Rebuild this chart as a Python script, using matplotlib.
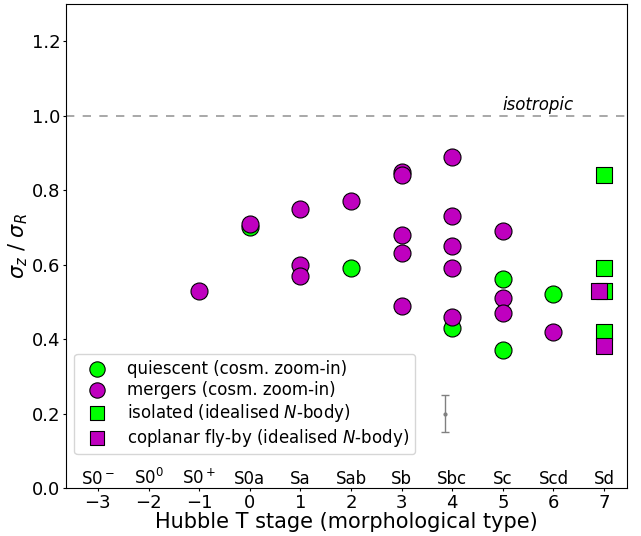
import numpy as np
import matplotlib.pyplot as plt

# sigma_z / sigma_R vs Hubble T stage
quies_t = [0, 2, 4, 5, 5, 6]
quies_s = [0.70, 0.59, 0.43, 0.56, 0.37, 0.52]

merg_t = [-1, 0, 1, 1, 1, 2, 3, 3, 3, 3, 3, 4, 4, 4, 4, 4, 5, 5, 5, 6]
merg_s = [0.53, 0.71, 0.75, 0.60, 0.57, 0.77, 0.85, 0.84, 0.68, 0.63, 0.49,
          0.89, 0.73, 0.65, 0.59, 0.46, 0.69, 0.51, 0.47, 0.42]

iso_t = [7, 7, 7, 7]
iso_s = [0.84, 0.59, 0.53, 0.42]

fly_t = [6.9, 7]
fly_s = [0.53, 0.38]

# typical uncertainty
err_t, err_s, err_e = 3.86, 0.20, 0.05

tstages = [-3, -2, -1, 0, 1, 2, 3, 4, 5, 6, 7]
tnames = [r'S0$^-$', r'S0$^0$', r'S0$^+$', 'S0a', 'Sa', 'Sab', 'Sb', 'Sbc', 'Sc', 'Scd', 'Sd']

fig = plt.figure(figsize=(6.41, 5.36), dpi=100)
ax = fig.add_axes([0.103, 0.0896, 0.875, 0.903])

ax.axhline(1.0, color='grey', ls=(0, (5, 5)), lw=1.2, alpha=0.8, zorder=1)
ax.text(5.0, 1.004, 'isotropic', style='italic', fontsize=12, va='bottom')

ax.scatter(quies_t, quies_s, s=150, c='lime', edgecolors='k', lw=0.8, zorder=3,
           label='quiescent (cosm. zoom-in)')
ax.scatter(merg_t, merg_s, s=150, c='m', edgecolors='k', lw=0.8, zorder=4,
           label='mergers (cosm. zoom-in)')
ax.scatter(iso_t, iso_s, s=120, c='lime', marker='s', edgecolors='k', lw=0.8, zorder=3,
           label='isolated (idealised $N$-body)')
ax.scatter(fly_t, fly_s, s=120, c='m', marker='s', edgecolors='k', lw=0.8, zorder=4,
           label='coplanar fly-by (idealised $N$-body)')

ax.errorbar(err_t, err_s, yerr=err_e, fmt='o', ms=2, color='grey', capsize=3, lw=1)

for t, name in zip(tstages, tnames):
    ax.text(t, 0.0, name, ha='center', va='bottom', fontsize=12)

ax.set_xlim(-3.63, 7.45)
ax.set_ylim(0, 1.3)
ax.set_xticks(tstages)
ax.set_yticks([0.0, 0.2, 0.4, 0.6, 0.8, 1.0, 1.2])
ax.tick_params(labelsize=13, length=2.5, pad=1.5)
ax.set_xlabel('Hubble T stage (morphological type)', fontsize=15, labelpad=0)
ax.set_ylabel(r'$\sigma_z$ / $\sigma_R$', fontsize=15, labelpad=1)

ax.legend(loc='lower left', bbox_to_anchor=(0.0, 0.052), fontsize=12, markerscale=0.9,
          handletextpad=0.8, borderpad=0.35, labelspacing=0.18, borderaxespad=0.5)

plt.savefig('out.png', dpi=100)
